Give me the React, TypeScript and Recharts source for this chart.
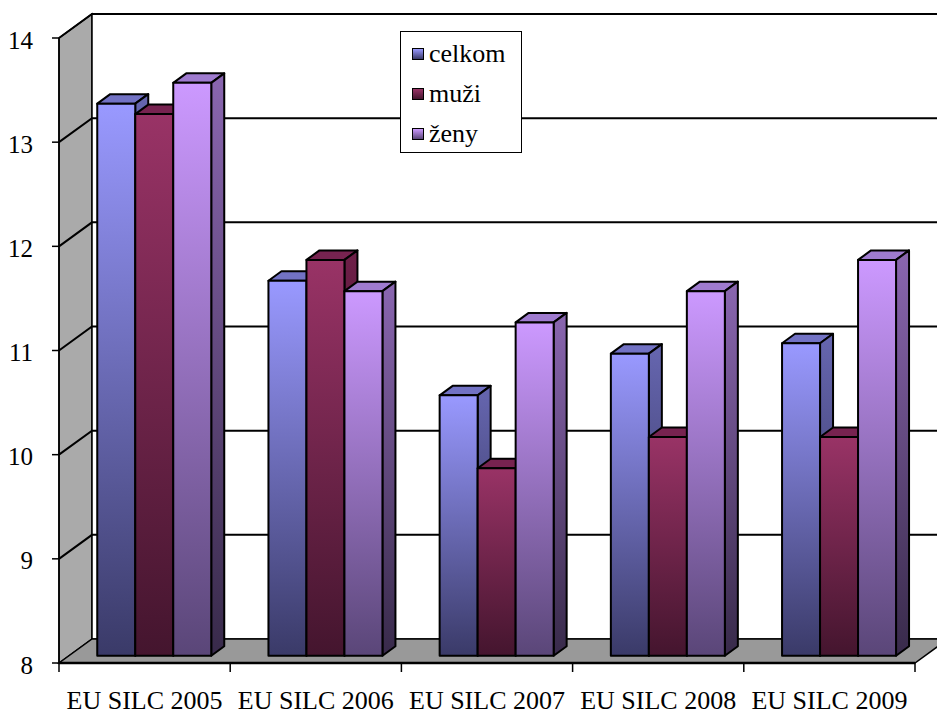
import { BarChart, Bar, XAxis, YAxis, ReferenceArea, Legend } from "recharts";

const categories = ["EU SILC 2005", "EU SILC 2006", "EU SILC 2007", "EU SILC 2008", "EU SILC 2009"];
const celkom = [13.3, 11.6, 10.5, 10.9, 11.0];
const muzi = [13.2, 11.8, 9.8, 10.1, 10.1];
const zeny = [13.5, 11.5, 11.2, 11.5, 11.8];
const yTicks = [8, 9, 10, 11, 12, 13, 14];

const data = categories.map((name, i) => ({
  name,
  celkom: celkom[i],
  muzi: muzi[i],
  zeny: zeny[i],
}));

const series = [
  { key: "celkom", label: "celkom", top: "#9999ff", bottom: "#3a3a68", cap: "#7272c4", sideTop: "#6666b0", sideBottom: "#2c2c4e" },
  { key: "muzi", label: "muži", top: "#993366", bottom: "#44152e", cap: "#772350", sideTop: "#6e1f48", sideBottom: "#341022" },
  { key: "zeny", label: "ženy", top: "#cc99ff", bottom: "#5a4678", cap: "#9f7bcf", sideTop: "#8a66b0", sideBottom: "#382a4a" },
];

// depth of the "3d" box and of each bar
const WALL_DX = 33;
const WALL_DY = 24;
const BAR_DX = 13;
const BAR_DY = 9.5;
const FRONT_DX = (WALL_DX - BAR_DX) / 2;
const FRONT_DY = (WALL_DY - BAR_DY) / 2;
const FONT =
  "'Liberation Serif', 'Times New Roman', Tinos, 'Nimbus Roman', 'Noto Serif', 'DejaVu Serif', FreeSerif, serif";

const Box3D = (props: any) => {
  const { x, y, width, height } = props;
  if (width == null || height == null) return null;
  const b = y + height;
  const r = x + width;
  const [min, max] = [yTicks[0], yTicks[yTicks.length - 1]];
  return (
    <g>
      <polygon
        points={`${x},${y} ${x + WALL_DX},${y - WALL_DY} ${x + WALL_DX},${b - WALL_DY} ${x},${b}`}
        fill="#aaaaaa"
        stroke="#000"
        strokeWidth={1.5}
      />
      <rect x={x + WALL_DX} y={y - WALL_DY} width={width + 40} height={height} fill="#fff" stroke="#000" strokeWidth={1.5} />
      <polygon
        points={`${x},${b} ${x + WALL_DX},${b - WALL_DY} ${r + WALL_DX},${b - WALL_DY} ${r},${b}`}
        fill="#999999"
        stroke="#000"
        strokeWidth={1.5}
      />
      {yTicks.slice(1).map((v) => {
        const ly = b - ((v - min) / (max - min)) * height;
        return (
          <polyline
            key={v}
            points={`${x},${ly} ${x + WALL_DX},${ly - WALL_DY} ${r + WALL_DX + 40},${ly - WALL_DY}`}
            fill="none"
            stroke="#000"
            strokeWidth={2}
          />
        );
      })}
      <line x1={x} y1={b} x2={r} y2={b} stroke="#000" strokeWidth={2.5} />
    </g>
  );
};

const Bar3D = (props: any) => {
  const { x, y, width, height, sk } = props;
  if (width == null || height == null || !(height > 0)) return null;
  const s = series.find((d) => d.key === sk)!;
  const fx = x + FRONT_DX;
  const fy = y - FRONT_DY;
  const b = fy + height;
  const r = fx + width;
  return (
    <g stroke="#000" strokeWidth={2} strokeLinejoin="round">
      <polygon
        points={`${fx},${fy} ${fx + BAR_DX},${fy - BAR_DY} ${r + BAR_DX},${fy - BAR_DY} ${r},${fy}`}
        fill={s.cap}
      />
      <polygon
        points={`${r},${fy} ${r + BAR_DX},${fy - BAR_DY} ${r + BAR_DX},${b - BAR_DY} ${r},${b}`}
        fill={`url(#side-${s.key})`}
      />
      <rect x={fx} y={fy} width={width} height={height} fill={`url(#front-${s.key})`} />
    </g>
  );
};

const XTick = (props: any) => {
  const { x, y, payload } = props;
  const half = payload?.offset ?? 0;
  const axisY = y - 28;
  return (
    <g>
      <line x1={x - half} y1={axisY} x2={x - half} y2={axisY + 9} stroke="#000" strokeWidth={1.5} />
      {payload.index === categories.length - 1 && (
        <line x1={x + half} y1={axisY} x2={x + half} y2={axisY + 9} stroke="#000" strokeWidth={1.5} />
      )}
      <text x={x} y={y} dy="0.71em" textAnchor="middle" fontSize={26} fontFamily={FONT} fill="#000">
        {payload.value}
      </text>
    </g>
  );
};

const YTick = (props: any) => {
  const { x, y, payload } = props;
  return (
    <text x={x} y={y} dy="0.42em" textAnchor="end" fontSize={25} fontFamily={FONT} fill="#000">
      {payload.value}
    </text>
  );
};

const LegendBox = () => (
  <div
    style={{
      width: 122,
      height: 122,
      border: "1px solid #000",
      background: "#fff",
      fontFamily: FONT,
      fontSize: 26,
      color: "#000",
      boxSizing: "border-box",
      paddingTop: 2,
    }}
  >
    {series.map((s) => (
      <div key={s.key} style={{ display: "flex", alignItems: "center", height: 40, paddingLeft: 11 }}>
        <span
          style={{
            display: "inline-block",
            width: 10,
            height: 10,
            border: "1.5px solid #000",
            background: `linear-gradient(${s.top}, ${s.bottom})`,
            marginRight: 5,
          }}
        />
        <span style={{ lineHeight: "26px" }}>{s.label}</span>
      </div>
    ))}
  </div>
);

export default function App() {
  return (
    <div style={{ position: "absolute", left: 0, top: 0, background: "#fff" }}>
      <BarChart
        width={937}
        height={716}
        data={data}
        margin={{ top: 38, right: 22, bottom: 0, left: 0 }}
        barCategoryGap="16.5%"
        barGap={0}
      >
        <defs>
          {series.map((s) => (
            <linearGradient key={`f${s.key}`} id={`front-${s.key}`} x1="0" y1="0" x2="0" y2="1">
              <stop offset="0%" stopColor={s.top} />
              <stop offset="100%" stopColor={s.bottom} />
            </linearGradient>
          ))}
          {series.map((s) => (
            <linearGradient key={`s${s.key}`} id={`side-${s.key}`} x1="0" y1="0" x2="0" y2="1">
              <stop offset="0%" stopColor={s.sideTop} />
              <stop offset="100%" stopColor={s.sideBottom} />
            </linearGradient>
          ))}
        </defs>
        <ReferenceArea y1={8} y2={14} shape={<Box3D />} ifOverflow="visible" />
        <XAxis
          dataKey="name"
          height={53}
          axisLine={false}
          tickLine={false}
          tickSize={9}
          tickMargin={19}
          tick={<XTick />}
          interval={0}
        />
        <YAxis
          domain={[8, 14]}
          ticks={yTicks}
          width={59}
          tickSize={7}
          tickMargin={19}
          axisLine={{ stroke: "#000", strokeWidth: 1.5 }}
          tickLine={{ stroke: "#000", strokeWidth: 1.5 }}
          tick={<YTick />}
          allowDataOverflow
        />
        <Legend
          layout="vertical"
          align="center"
          verticalAlign="middle"
          content={<LegendBox />}
          wrapperStyle={{ left: 400, top: 31, width: 122, height: 122 }}
        />
        {series.map((s) => (
          <Bar
            key={s.key}
            dataKey={s.key}
            name={s.label}
            fill={s.top}
            isAnimationActive={false}
            shape={(p: any) => <Bar3D {...p} sk={s.key} />}
          />
        ))}
      </BarChart>
    </div>
  );
}
